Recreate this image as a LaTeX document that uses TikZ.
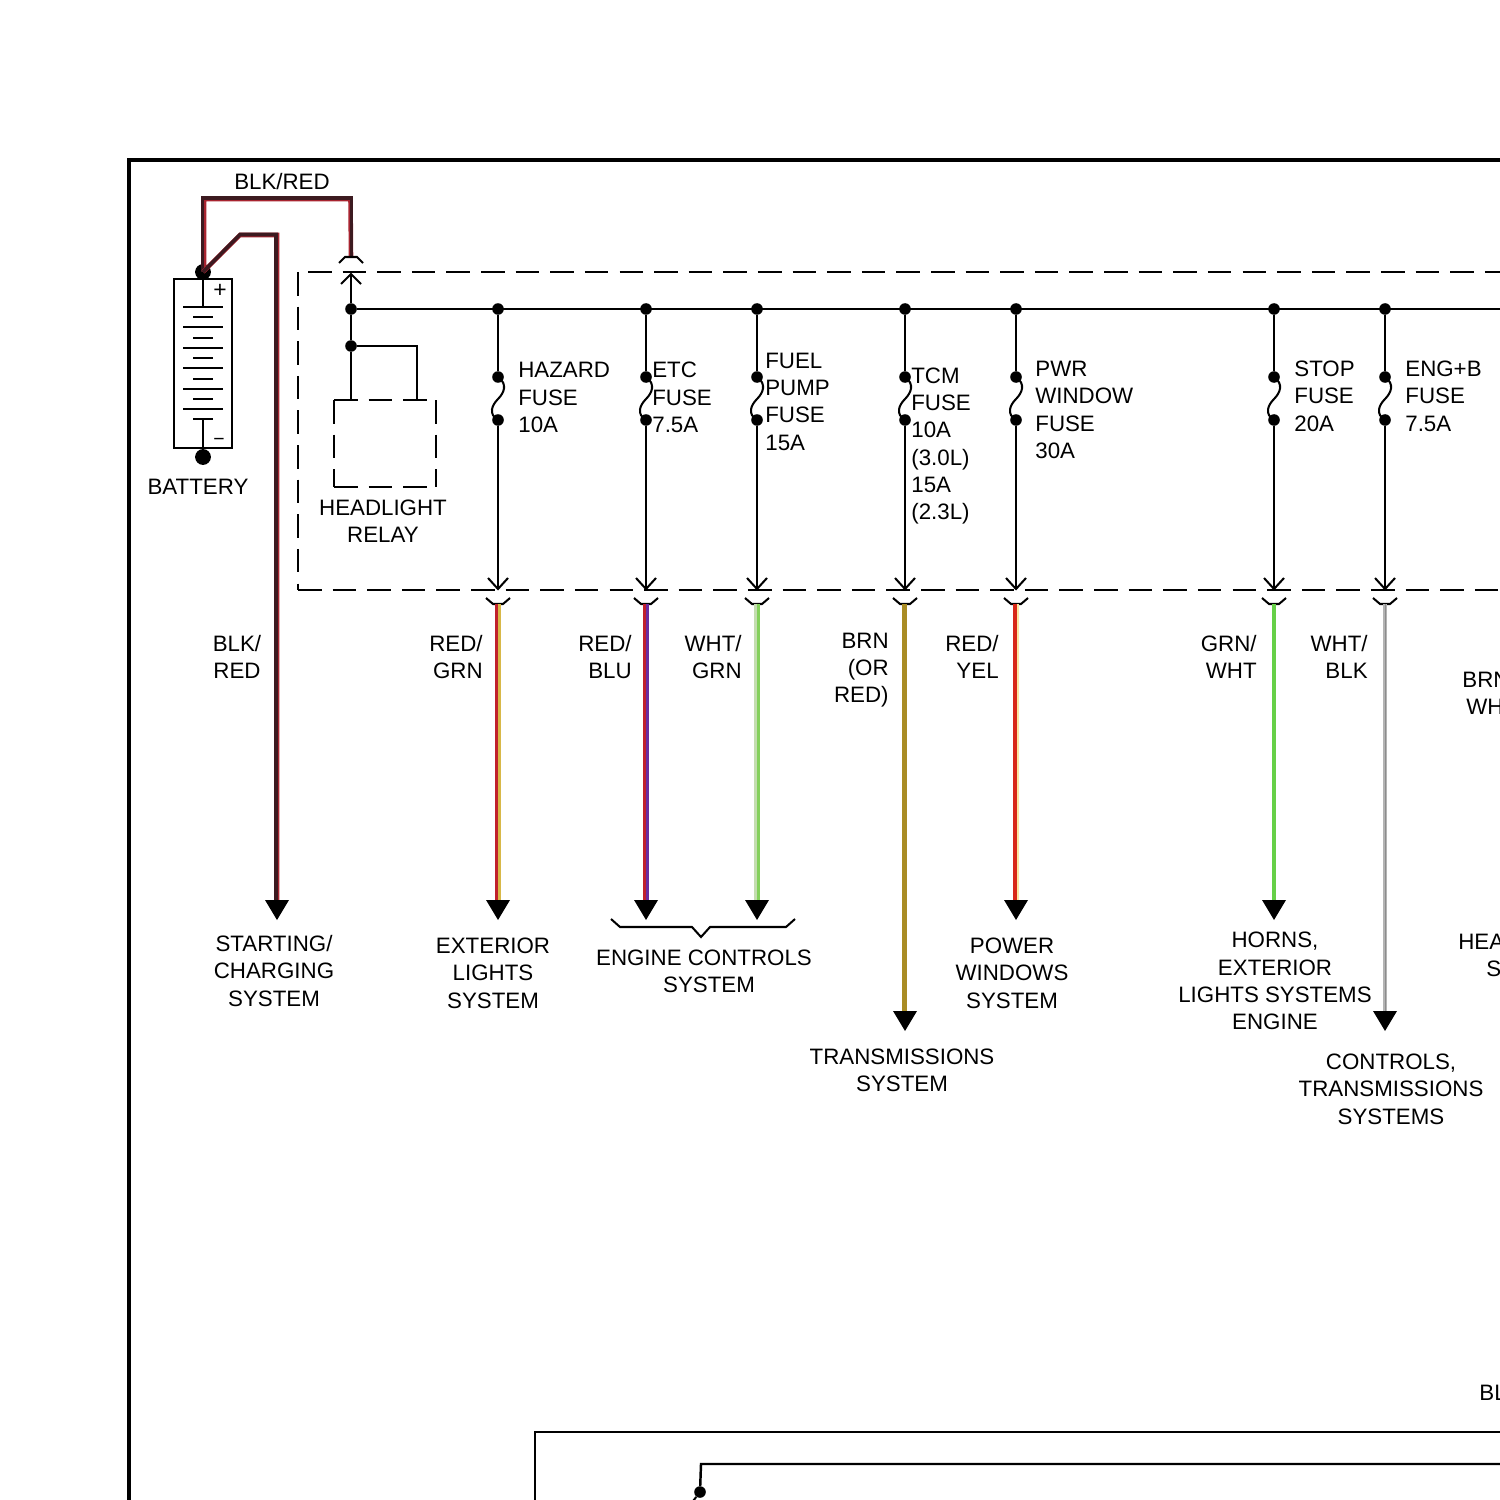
\documentclass[tikz,border=0pt]{standalone}
\usepackage{fontspec}
\setmainfont{Liberation Sans}
\usepackage{tikz}

\tikzset{
  thin wire/.style={line width=1.15pt,black},
  dashed box/.style={line width=1.15pt,black,dash pattern=on 13.4pt off 6.3pt},
  fuse dot/.style={circle,fill=black,inner sep=0pt,minimum size=6.6pt},
  batt dot/.style={circle,fill=black,inner sep=0pt,minimum size=9pt},
  tone/.style={line width=1.5pt},
  lbl/.style={font=\fontsize{12.7}{15.55}\selectfont,inner sep=0pt,text=black,yshift=-0.02cm},
  lbl west/.style={lbl,anchor=west,align=left},
  lbl east/.style={lbl,anchor=east,align=right},
  lbl mid/.style={lbl,align=center},
}
\definecolor{wirered}{HTML}{C0202C}
\definecolor{wirefeed}{HTML}{A82430}
\definecolor{wiredark}{HTML}{3C1A20}
\definecolor{wireyel}{HTML}{D8B848}
\definecolor{wirepur}{HTML}{6A2CA0}
\definecolor{wirepale}{HTML}{C4DDB0}
\definecolor{wiregrn}{HTML}{84D05C}
\definecolor{wirebrn}{HTML}{A98C24}
\definecolor{wireorg}{HTML}{D82818}
\definecolor{wirecrm}{HTML}{FBE6A0}
\definecolor{wirelime}{HTML}{66D048}
\definecolor{wiregry}{HTML}{B4B4B4}
\definecolor{wiregrd}{HTML}{8C8C8C}

\begin{document}
\begin{tikzpicture}[x=0.02cm,y=-0.02cm]
\path[use as bounding box,clip] (0,0) rectangle (1500,1500);

% Configurable parameters
\def\busy{309}
\def\boxbot{590}

% Fuse branch: #1 name, #2 x
\def\fusebranch#1#2{
  \node[fuse dot] (#1bus) at (#2,\busy) {};
  \node[fuse dot] (#1top) at (#2,377) {};
  \node[fuse dot] (#1bot) at (#2,420) {};
  \coordinate (#1tip) at (#2,\boxbot-1);
  \draw[thin wire] (#1bus) -- (#1top);
  \draw[thin wire] (#1top.center) .. controls (#2+10,384) and (#2+6,393) .. (#2,399)
    .. controls (#2-6,405) and (#2-10,414) .. (#1bot.center);
  \draw[thin wire] (#1bot) -- (#1tip);
  \draw[thin wire] (#2-10,578) -- (#1tip) -- (#2+10,578);
  \draw[thin wire] (#2-12,598) -- (#2-5,604) -- (#2+5,604) -- (#2+12,598);
  \coordinate (#1out) at (#2,604);
}
% Arrow head under a wire: #1 x, #2 y
\def\wirehead#1#2{
  \fill[black] (#1-12,#2) -- (#1+12,#2) -- (#1,#2+20) -- cycle;
}

% Frame
\draw[line width=2.3pt] (129,1510) -- (129,160) -- (1510,160);

% Battery
\draw[thin wire] (174,279) rectangle (232,448);
\node[batt dot] (battpos) at (203,272) {};
\node[batt dot] (battneg) at (203,457) {};
\draw[thin wire] (battpos) -- (203,307);
\draw[thin wire] (203,419) -- (battneg);
\draw[thin wire] (183,307) -- (223,307);
\draw[thin wire] (193,317) -- (213,317);
\draw[thin wire] (183,327) -- (223,327);
\draw[thin wire] (193,338) -- (213,338);
\draw[thin wire] (183,348) -- (223,348);
\draw[thin wire] (193,358) -- (213,358);
\draw[thin wire] (183,368) -- (223,368);
\draw[thin wire] (193,379) -- (213,379);
\draw[thin wire] (183,389) -- (223,389);
\draw[thin wire] (193,399) -- (213,399);
\draw[thin wire] (183,409) -- (223,409);
\draw[thin wire] (193,419) -- (213,419);
\node[lbl,font=\fontsize{13}{15}\selectfont] (battplus) at (220,290) {+};
\node[lbl,font=\fontsize{11}{13}\selectfont] (battminus) at (219,441) {−};
\node[lbl mid] (battlabel) at (198,486) {BATTERY};

% Feed wires from the battery
\coordinate (feedin) at (351,257);
\coordinate (startout) at (277,900);
\draw[line width=2.6pt,wirefeed] (204,272) -- (204,199) -- (350.5,199) -- (feedin);
\draw[line width=2pt,wiredark] (202.5,272) -- (202.5,198) -- (351.5,198) -- (351.5,257);
\draw[line width=2.6pt,wirefeed] (battpos.center) -- (240,235) -- (277,235) -- (startout);
\draw[line width=2pt,wiredark] (battpos.center) -- (240,234.5) -- (276,234.5) -- (276,900);
\wirehead{277}{900}
\node[lbl mid] (feedlabel) at (282,181) {BLK/RED};
\node[lbl mid] (startwire) at (237,656) {BLK/\\RED};
\node[lbl mid] (startsys) at (274,970) {STARTING/\\CHARGING\\SYSTEM};

% Fuse box outline
\draw[dashed box] (308,272) -- (1510,272);
\draw[dashed box] (298,272) -- (298,\boxbot);
\draw[dashed box] (298,\boxbot) -- (1510,\boxbot);

% Headlight relay
\node[fuse dot] (busstart) at (351,\busy) {};
\node[fuse dot] (relaydot) at (351,346) {};
\coordinate (feedtip) at (351,274);
\coordinate (busend) at (1510,\busy);
\draw[thin wire] (339,263) -- (345,257) -- (357,257) -- (363,263);
\draw[thin wire] (341,284) -- (feedtip) -- (361,284);
\draw[thin wire] (feedtip) -- (busstart);
\draw[thin wire] (busstart) -- (relaydot);
\draw[thin wire] (relaydot) -- (351,400);
\draw[thin wire] (relaydot) -- (417,346) -- (417,400);
\draw[dashed box] (334,400) -- (428,400);
\draw[dashed box] (334,400) -- (334,487);
\draw[dashed box] (436,400) -- (436,487);
\draw[dashed box] (334,487) -- (436,487);
\node[lbl mid] (relaylabel) at (383,520) {HEADLIGHT\\RELAY};

% Bus and fuses
\draw[thin wire] (busstart) -- (busend);
\fusebranch{haz}{498}
\fusebranch{etc}{646}
\fusebranch{fuel}{757}
\fusebranch{tcm}{905}
\fusebranch{pwr}{1016}
\fusebranch{stop}{1274}
\fusebranch{eng}{1385}

\node[lbl west] (hazlabel) at (518,396.5) {HAZARD\\FUSE\\10A};
\node[lbl west] (etclabel) at (652,396.5) {ETC\\FUSE\\7.5A};
\node[lbl west] (fuellabel) at (765,400.5) {FUEL\\PUMP\\FUSE\\15A};
\node[lbl west] (tcmlabel) at (911,445) {TCM\\FUSE\\10A\\(3.0L)\\15A\\(2.3L)};
\node[lbl west] (pwrlabel) at (1035,409) {PWR\\WINDOW\\FUSE\\30A};
\node[lbl west] (stoplabel) at (1294,395) {STOP\\FUSE\\20A};
\node[lbl west] (englabel) at (1405,395) {ENG+B\\FUSE\\7.5A};

% Output wires
\draw[tone,wirered] ([xshift=-0.026cm]hazout) -- ++(0,296);
\draw[tone,wireyel] ([xshift=0.026cm]hazout) -- ++(0,296);
\wirehead{498}{900}
\draw[tone,wirered] ([xshift=-0.026cm]etcout) -- ++(0,296);
\draw[tone,wirepur] ([xshift=0.026cm]etcout) -- ++(0,296);
\wirehead{646}{900}
\draw[tone,wirepale] ([xshift=-0.026cm]fuelout) -- ++(0,296);
\draw[tone,wiregrn] ([xshift=0.026cm]fuelout) -- ++(0,296);
\wirehead{757}{900}
\draw[line width=2.7pt,wirebrn] ([xshift=-0.012cm]tcmout) -- ++(0,407);
\wirehead{905}{1011}
\draw[line width=1.4pt,wirecrm] ([xshift=0.03cm]pwrout) -- ++(0,296);
\draw[line width=2.3pt,wireorg] ([xshift=-0.02cm]pwrout) -- ++(0,296);
\wirehead{1016}{900}
\draw[line width=2.3pt,wirelime] ([xshift=-0.01cm]stopout) -- ++(0,296);
\wirehead{1274}{900}
\draw[line width=2.7pt,wiregry] (engout) -- ++(0,407);
\draw[line width=0.8pt,wiregrd] ([xshift=0.01cm]engout) -- ++(0,407);
\wirehead{1385}{1011}

\node[lbl east] (hazwire) at (483,656) {RED/\\GRN};
\node[lbl east] (etcwire) at (632,656) {RED/\\BLU};
\node[lbl east] (fuelwire) at (742,656) {WHT/\\GRN};
\node[lbl east] (tcmwire) at (889,669) {BRN\\(OR\\RED)};
\node[lbl east] (pwrwire) at (999,656) {RED/\\YEL};
\node[lbl east] (stopwire) at (1257,656) {GRN/\\WHT};
\node[lbl east] (engwire) at (1368,656) {WHT/\\BLK};
\node[lbl west] (cutwirea) at (1462,679) {BRN};
\node[lbl west] (cutwireb) at (1466,706) {WH};

% Systems
\draw[thin wire] (611,919) -- (620,927) -- (692,927) -- (701,937) -- (710,927) -- (786,927) -- (795,919);
\node[lbl mid] (hazsys) at (493,972) {EXTERIOR\\LIGHTS\\SYSTEM};
\node[lbl mid] (ecusys) at (704,957) {ENGINE CONTROLS};
\node[lbl mid] (ecusysb) at (709,984) {SYSTEM};
\node[lbl mid] (tcmsys) at (902,1069) {TRANSMISSIONS\\SYSTEM};
\node[lbl mid] (pwrsys) at (1012,972) {POWER\\WINDOWS\\SYSTEM};
\node[lbl mid] (stopsys) at (1275,980) {HORNS,\\EXTERIOR\\LIGHTS SYSTEMS\\ENGINE};
\node[lbl mid] (engsys) at (1391,1088) {CONTROLS,\\TRANSMISSIONS\\SYSTEMS};
\node[lbl west] (cutsysa) at (1458,941) {HEA};
\node[lbl west] (cutsysb) at (1486,968) {S};
\node[lbl west] (cutlow) at (1479,1392) {BL};

% Lower box
\draw[thin wire,line width=1.4pt] (535,1510) -- (535,1432) -- (1510,1432);
\node[fuse dot] (lowdot) at (700,1492) {};
\draw[thin wire,line width=1.4pt] (lowdot) -- (701,1464) -- (1510,1464);
\draw[thin wire] (lowdot) -- (690,1505);
\end{tikzpicture}
\end{document}
